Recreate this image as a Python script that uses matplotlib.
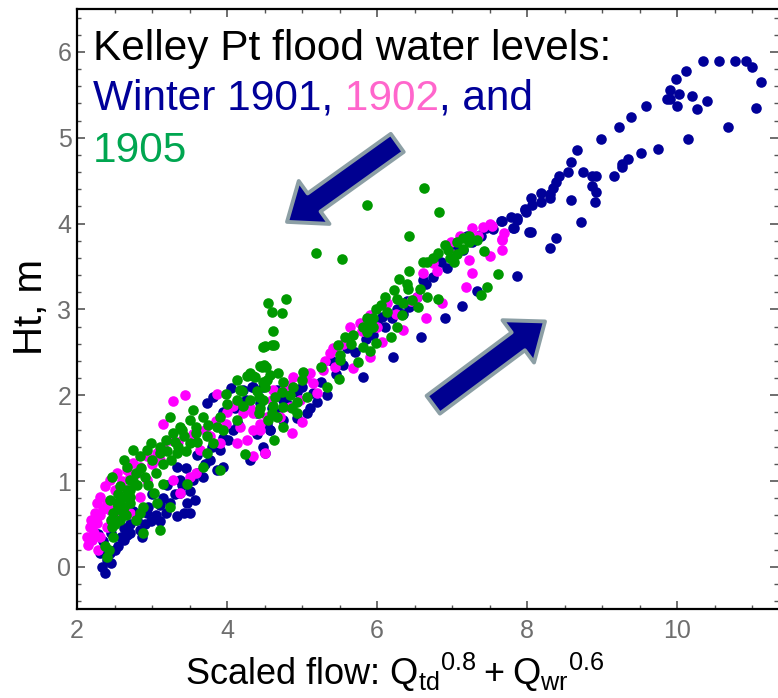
import matplotlib
matplotlib.use("Agg")
import matplotlib.pyplot as plt
from matplotlib.ticker import MultipleLocator

# Kelley Pt flood water levels
x_1901 = [10.35, 10.56, 10.77, 10.92, 11.00, 11.12, 11.05, 10.68, 10.12, 9.98, 9.91, 9.86, 9.90, 10.03,
          10.00, 10.20, 10.27, 10.40, 10.14, 9.59, 9.38, 9.22, 8.98, 8.66, 8.58, 8.54, 8.43, 8.38, 8.35,
          8.31, 8.30, 8.19, 8.19, 8.05, 8.06, 7.97, 7.99, 7.79, 7.86, 7.65, 7.54, 7.83, 7.39, 8.05, 8.74,
          8.87, 8.92, 8.87, 8.92, 8.91, 8.58, 9.16, 9.26, 9.26, 9.34, 9.52, 9.75, 8.72, 8.39, 8.30, 7.87,
          7.66, 7.86, 7.97, 8.03, 7.81, 7.37, 7.26, 7.14, 6.93, 6.74, 6.61, 6.53, 6.43, 6.27, 6.06, 6.21,
          5.81, 6.58, 6.90, 7.13, 7.33, 5.33, 5.20, 5.14, 5.10, 5.06, 4.93, 4.74, 4.57, 4.40, 4.33, 4.48,
          4.74, 4.93, 5.55, 5.70, 5.95, 6.10, 5.45, 6.35, 7.00, 7.45,
          2.37, 2.33, 2.40, 2.31, 2.44, 2.55, 2.62, 2.71, 2.84, 2.99, 2.93, 3.11, 3.19, 3.33, 3.42, 3.46,
          3.57, 3.50, 3.55, 3.68, 3.77, 3.86, 3.95, 3.90, 4.01, 4.08, 4.15, 3.73, 3.81, 3.95, 4.06, 4.21,
          4.35, 4.44, 4.53, 4.57, 4.48, 4.50, 4.30, 4.66, 4.66, 3.11, 3.24, 3.37, 3.37, 3.33, 3.50, 2.66,
          2.86, 2.35, 2.45, 2.28, 2.50, 2.75, 3.00, 3.20, 3.60, 3.45, 2.62, 2.90,
          2.45, 2.50, 2.58, 2.70, 2.80, 2.95, 3.05, 3.15, 3.30, 3.40, 3.60, 3.70, 3.80, 3.95, 4.10, 4.25,
          4.40, 4.60, 4.80, 5.00, 5.25, 5.40, 5.60, 5.85, 6.00, 6.20, 6.40, 6.65, 6.85, 7.05, 7.20]
y_1901 = [5.89, 5.90, 5.90, 5.89, 5.82, 5.65, 5.35, 5.12, 5.78, 5.68, 5.56, 5.45, 5.45, 5.51,
          5.37, 5.49, 5.34, 5.43, 4.98, 5.37, 5.24, 5.12, 4.98, 4.86, 4.72, 4.60, 4.56, 4.48, 4.41,
          4.34, 4.30, 4.36, 4.25, 4.30, 4.22, 4.17, 4.13, 4.08, 4.06, 4.03, 3.94, 3.95, 3.85, 3.90, 4.60,
          4.55, 4.55, 4.44, 4.37, 4.25, 4.28, 4.55, 4.66, 4.70, 4.75, 4.82, 4.87, 4.02, 3.83, 3.71, 3.39,
          4.03, 4.04, 4.16, 3.90, 3.95, 3.87, 3.78, 3.69, 3.48, 3.38, 3.34, 3.14, 3.03, 3.00, 2.91, 2.44,
          2.21, 2.68, 2.90, 3.04, 3.21, 2.00, 1.92, 2.03, 1.85, 1.79, 1.74, 1.71, 1.60, 1.79, 2.10, 2.10,
          1.95, 2.04, 2.35, 2.50, 2.70, 2.80, 2.25, 2.95, 3.60, 3.95,
          -0.07, 0.00, 0.08, 0.16, 0.16, 0.24, 0.31, 0.39, 0.43, 0.53, 0.63, 0.53, 0.63, 0.59, 0.63, 0.74,
          0.78, 0.88, 1.01, 1.05, 1.25, 1.13, 1.17, 1.36, 1.48, 1.60, 1.67, 1.91, 1.98, 1.81, 2.08, 2.06,
          2.10, 1.91, 1.67, 1.60, 1.40, 1.33, 1.25, 1.79, 2.06, 0.72, 0.74, 0.86, 1.01, 1.17, 0.63, 0.37,
          0.35, 0.30, 0.40, 0.38, 0.55, 0.65, 0.85, 0.95, 1.30, 1.15, 0.45, 0.50,
          0.05, 0.20, 0.35, 0.50, 0.55, 0.70, 0.60, 0.80, 0.85, 0.95, 1.10, 1.20, 1.40, 1.50, 1.85, 1.95,
          1.55, 1.85, 1.90, 2.10, 2.15, 2.40, 2.55, 2.65, 2.85, 2.90, 3.10, 3.30, 3.55, 3.75, 3.85]

x_1902 = [7.50, 7.67, 7.27, 7.41, 7.53, 7.69, 7.66, 7.66, 7.51, 7.23, 7.26, 7.18, 6.87, 6.65, 6.34,
          6.06, 5.90, 5.68, 5.37, 5.41, 5.64, 5.77, 5.90, 6.13, 6.53, 6.61, 6.74, 6.99, 7.10, 5.44, 5.10,
          4.88, 4.84, 5.14, 5.20, 5.28, 4.97, 4.84, 4.70, 4.44, 4.34, 5.00, 4.86,
          2.13, 2.17, 2.24, 2.26, 2.31, 2.37, 2.44, 2.53, 2.66, 2.75, 2.84, 2.93, 3.06, 3.15, 3.24, 3.15,
          3.28, 3.44, 3.86, 4.08, 4.17, 3.99, 3.90, 4.13, 4.26, 4.35, 4.35, 4.50, 4.44, 4.53, 4.61, 4.21,
          3.64, 3.77, 3.59, 3.37, 3.28, 2.93, 2.84, 2.66, 2.53, 2.40, 2.31, 2.20, 2.44, 2.57, 2.71, 3.50,
          2.26, 2.35, 2.15, 2.22, 2.18, 2.28,
          2.20, 2.25, 2.30, 2.40, 2.50, 2.60, 2.70, 2.80, 3.00, 3.10, 3.35, 3.55, 3.70, 3.85, 4.00, 4.30,
          4.60, 4.75, 5.05, 5.30, 5.55, 5.80, 6.00, 6.25, 6.45, 6.80, 7.00, 7.35]
y_1902 = [3.99, 3.82, 3.95, 3.96, 3.97, 3.89, 3.81, 3.69, 3.62, 3.58, 3.43, 3.26, 3.08, 2.90, 2.76,
          2.62, 2.45, 2.32, 2.49, 2.55, 2.80, 2.84, 2.94, 3.08, 3.15, 3.43, 3.54, 3.79, 3.85, 2.33, 2.26,
          2.21, 2.12, 2.14, 2.03, 2.30, 1.95, 1.86, 1.75, 1.60, 1.79, 1.69, 1.56,
          0.35, 0.47, 0.63, 0.74, 0.82, 0.94, 1.01, 1.09, 1.13, 1.21, 1.17, 1.29, 1.33, 1.40, 1.48, 1.67,
          1.93, 2.00, 2.02, 1.88, 1.63, 1.67, 1.44, 1.44, 1.48, 1.29, 1.60, 1.33, 1.67, 1.75, 2.06, 1.79,
          1.36, 1.52, 1.09, 0.86, 1.01, 1.01, 0.82, 0.90, 0.59, 0.47, 0.35, 0.31, 0.66, 0.78, 0.63, 1.05,
          0.51, 0.68, 0.25, 0.40, 0.55, 0.20,
          0.45, 0.55, 0.60, 0.75, 0.90, 1.00, 1.05, 1.10, 1.20, 1.25, 1.45, 1.55, 1.60, 1.70, 1.80, 1.85,
          1.95, 2.05, 2.20, 2.40, 2.60, 2.75, 2.80, 2.95, 3.10, 3.45, 3.65, 3.85]

x_1905 = [5.86, 6.83, 6.43, 5.18, 5.53, 4.54, 4.78, 4.60, 4.73, 4.61, 4.48, 4.60, 4.44, 4.49, 6.62,
          6.61, 6.43, 6.29, 6.23, 6.41, 6.57, 6.10, 6.27, 6.35, 6.47, 6.66, 6.55, 6.81, 5.99, 6.13, 6.33,
          5.86, 5.90, 5.81, 5.94, 5.87, 6.26, 6.19, 5.99, 5.90, 5.81, 5.68, 5.57, 5.48, 5.50, 5.50, 5.74,
          5.49, 5.25, 5.33, 6.94, 7.06, 7.14, 7.23, 6.97, 7.06, 7.14, 7.03, 7.23, 7.33, 6.81, 6.67, 7.42,
          7.61, 7.46, 7.38, 5.01, 5.00, 4.88, 4.74, 4.68, 4.57, 4.48, 4.46, 4.37, 4.30, 4.84, 4.73, 4.64,
          4.48, 4.44, 4.60, 4.74, 4.93, 5.06, 4.86, 4.66, 4.74, 4.54, 4.93,
          2.40, 2.42, 2.37, 2.48, 2.46, 2.48, 2.53, 2.44, 2.62, 2.66, 2.57, 2.71, 2.79, 2.66, 2.62, 2.84,
          2.93, 2.99, 3.11, 3.19, 3.28, 3.24, 3.37, 3.42, 3.50, 3.59, 3.55, 3.59, 3.68, 3.73, 3.68, 3.81,
          3.86, 3.95, 4.13, 3.99, 4.13, 4.21, 4.30, 4.43, 4.50, 4.53, 4.52, 4.50, 4.63, 4.26, 4.13, 4.17,
          4.43, 4.61, 4.63, 4.24, 3.90, 3.46, 3.15, 3.02, 3.06, 3.24, 2.88, 2.79, 2.88, 3.11, 2.84, 2.71,
          2.57, 2.46, 2.75, 3.50, 3.33, 3.73, 4.35, 2.55, 2.60, 2.70, 2.80, 2.90, 2.95, 3.05, 3.15, 3.25,
          3.35, 3.45, 2.50, 2.65,
          2.45, 2.55, 2.60, 2.70, 2.75, 2.85, 3.00, 3.10, 3.20, 3.30, 3.40, 3.60, 3.75, 3.90, 4.00, 4.20,
          4.40, 5.65, 5.95, 6.05, 6.40, 6.75, 6.90]
y_1905 = [4.22, 4.13, 3.85, 3.66, 3.59, 3.08, 3.12, 2.97, 2.96, 2.75, 2.56, 2.58, 2.34, 2.35, 4.41,
          3.55, 3.45, 3.35, 3.23, 3.24, 3.24, 3.14, 3.12, 3.08, 3.11, 3.15, 3.03, 3.12, 3.00, 2.97, 2.94,
          2.90, 2.84, 2.80, 2.80, 2.74, 2.79, 2.68, 2.61, 2.51, 2.56, 2.70, 2.68, 2.59, 2.47, 2.41, 2.39,
          2.19, 2.33, 2.10, 3.69, 3.78, 3.83, 3.78, 3.60, 3.65, 3.70, 3.55, 3.85, 3.81, 3.66, 3.55, 3.68,
          3.41, 3.26, 3.17, 2.27, 2.18, 2.10, 2.16, 2.26, 2.24, 2.16, 2.33, 2.21, 2.26, 2.00, 2.04, 1.98,
          1.95, 1.85, 1.79, 1.86, 1.92, 1.98, 1.85, 1.75, 1.63, 1.71, 1.79,
          0.12, 0.20, 0.24, 0.35, 0.47, 0.63, 0.74, 0.78, 0.70, 0.90, 0.94, 1.01, 1.09, 1.17, 1.25, 1.29,
          1.36, 1.44, 1.33, 1.48, 1.56, 1.75, 1.63, 1.52, 1.71, 1.56, 1.83, 1.63, 1.75, 1.33, 1.17, 1.44,
          1.63, 1.60, 1.71, 2.02, 1.94, 1.87, 1.94, 1.98, 2.10, 2.18, 2.33, 2.57, 2.59, 2.22, 2.18, 2.06,
          1.79, 1.87, 1.48, 1.31, 1.13, 0.97, 0.97, 0.86, 0.74, 0.70, 0.70, 0.55, 0.39, 0.43, 0.63, 0.82,
          0.55, 1.05, 1.36, 1.44, 1.33, 1.52, 2.22, 0.85, 0.65, 0.75, 0.95, 1.05, 0.95, 1.10, 1.20, 1.25,
          1.40, 1.35, 0.50, 0.60,
          0.55, 0.70, 0.80, 0.90, 1.00, 1.15, 1.25, 1.40, 1.35, 1.45, 1.60, 1.45, 1.65, 1.75, 1.90, 2.05,
          2.05, 2.60, 2.90, 3.05, 3.30, 3.60, 3.75]

# arrows: (tail, tip) in data units
arrows = [((6.27, 4.94), (4.80, 4.02)),
          ((6.75, 1.89), (8.24, 2.86))]

BLUE = "#000099"
PINK = "#ff00ff"
GREEN = "#009900"
DOT = 58

plt.rcParams["font.family"] = ["Liberation Sans", "DejaVu Sans"]
plt.rcParams["mathtext.fontset"] = "custom"
plt.rcParams["mathtext.rm"] = "Liberation Sans"

fig = plt.figure(figsize=(7.78, 6.98), dpi=100)
ax = fig.add_axes([77 / 778, 89 / 698, 701 / 778, 600 / 698])

ax.scatter(x_1901, y_1901, s=DOT, color=BLUE, linewidths=0, zorder=2)
ax.scatter(x_1902, y_1902, s=DOT, color=PINK, linewidths=0, zorder=3)
ax.scatter(x_1905, y_1905, s=DOT, color=GREEN, linewidths=0, zorder=4)

ax.set_xlim(2, 2 + 701 / 75.0)
ax.set_ylim(-0.49, 6.50)

ax.xaxis.set_major_locator(MultipleLocator(2))
ax.xaxis.set_minor_locator(MultipleLocator(0.5))
ax.yaxis.set_major_locator(MultipleLocator(1))
ax.yaxis.set_minor_locator(MultipleLocator(0.2))
ax.tick_params(which="both", direction="in", top=True, right=True, color="#555555")
ax.tick_params(which="major", length=6, width=1.2, labelsize=18, labelcolor="#6e6e6e")
ax.tick_params(which="minor", length=3, width=1.0)
ax.tick_params(axis="x", pad=7)
ax.tick_params(axis="y", pad=4)

for side in ["left", "bottom", "top"]:
    ax.spines[side].set_linewidth(1.6)
    ax.spines[side].set_color("black")
ax.spines["right"].set_visible(False)

ax.set_ylabel("Ht, m", fontsize=29, color="black")
ax.yaxis.set_label_coords(-0.038, 0.503)
ax.set_xlabel(r"Scaled flow: $\mathregular{{Q_{td}}^{0.8}+{Q_{wr}}^{0.6}}$", fontsize=26, color="black")
ax.xaxis.set_label_coords(0.454, -0.07)

# title block in three colours
ax.text(0.0228, 0.915, "Kelley Pt flood water levels:", transform=ax.transAxes,
        fontsize=30.5, color="black", va="baseline", zorder=6)
t1 = ax.text(0.0228, 0.832, "Winter 1901,", transform=ax.transAxes,
             fontsize=30.5, color=BLUE, va="baseline", zorder=6)
t2 = ax.annotate(" 1902", xy=(1, 0), xycoords=t1, fontsize=30.5, color="#ff66cc", va="bottom", zorder=6)
ax.annotate(", and", xy=(1, 0), xycoords=t2, fontsize=30.5, color=BLUE, va="bottom", zorder=6)
ax.text(0.0228, 0.745, "1905", transform=ax.transAxes,
        fontsize=30.5, color="#00a650", va="baseline", zorder=6)

for tail, tip in arrows:
    ax.annotate("", xy=tip, xytext=tail,
                arrowprops=dict(arrowstyle="simple,head_length=1.2,head_width=1.9,tail_width=0.8",
                                mutation_scale=20, fc="#000090", ec="#8c9fa5", lw=2.8,
                                shrinkA=0, shrinkB=0), zorder=7)

fig.savefig("out.png", dpi=100)
